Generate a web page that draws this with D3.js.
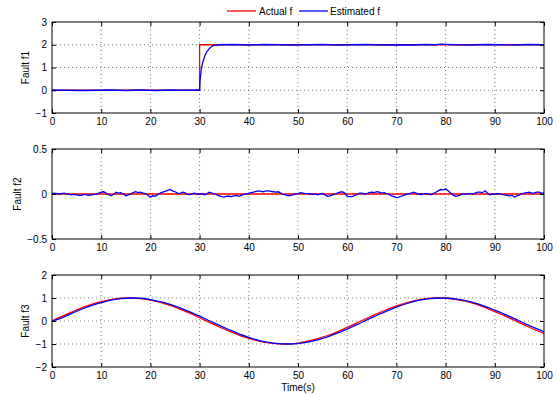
<!DOCTYPE html>
<html>
<head>
<meta charset="utf-8">
<script src="https://cdn.jsdelivr.net/npm/d3@7"></script>
<style>
  body { margin: 0; background: #fff; }
  svg { display: block; font-family: "Liberation Sans", Arial, sans-serif; }
  .tick text { font-size: 10px; fill: #000; }
</style>
</head>
<body>
<div id="chart"></div>
<script>
// ---- data ----
const xTicks = [0, 10, 20, 30, 40, 50, 60, 70, 80, 90, 100];

// fault f1
const f1ActualTime = [0, 30, 30, 100];
const f1ActualValue = [0, 0, 2, 2];
const f1EstTime = [0, 3, 6, 9, 12, 15, 18, 21, 24, 27, 29.8, 30, 30.1, 30.3, 30.6, 31, 31.5, 32, 32.5, 33, 34,
  37, 40, 43, 46, 49, 52, 55, 58, 61, 64, 67, 70, 73, 76, 78, 79, 80, 82, 85, 88, 91, 94, 97, 100];
const f1EstValue = [0, 0.0, -0.01, 0.0, 0.01, -0.01, 0.01, -0.01, 0.01, 0.0, 0.01, 0.0, 0.45, 0.85, 1.2, 1.48, 1.7, 1.84, 1.93, 1.97, 2.0,
  2.01, 1.99, 2.01, 2.0, 1.99, 2.0, 2.01, 1.99, 2.0, 2.01, 1.99, 2.0, 1.99, 2.01, 2.0, 2.03, 2.02, 2.0, 1.99, 2.01, 2.0, 1.99, 2.01, 2.0];

// fault f2 (sampled every 0.5 s)
const f2Actual = [0, 0];
const f2Est = [
  0.005, 0.01, 0.005, 0.0, 0.005, 0.01, 0.0, -0.005, -0.01, -0.005,
  -0.01, -0.015, -0.015, -0.005, -0.01, -0.015, -0.01, -0.005, -0.005, 0.01,
  0.02, 0.025, 0.01, -0.005, -0.02, -0.005, 0.02, 0.01, 0.015, 0.0,
  -0.02, -0.01, 0.0, 0.015, 0.025, 0.015, 0.02, 0.01, 0.005, -0.015,
  -0.035, -0.02, -0.025, -0.005, 0.01, 0.02, 0.03, 0.04, 0.05, 0.035,
  0.025, 0.01, 0.005, 0.02, 0.015, 0.0, -0.01, 0.005, 0.01, 0.0,
  -0.005, 0.005, -0.01, 0.005, 0.02, 0.01, 0.005, -0.01, -0.02, -0.03,
  -0.035, -0.025, -0.025, -0.03, -0.02, -0.015, -0.025, -0.015, -0.005, 0.0,
  0.01, 0.015, 0.02, 0.03, 0.035, 0.03, 0.025, 0.035, 0.035, 0.03,
  0.025, 0.02, 0.025, 0.01, -0.005, -0.01, -0.02, -0.015, -0.01, 0.0,
  0.005, 0.015, 0.01, 0.005, 0.005, 0.0, -0.005, 0.0, -0.01, 0.0,
  0.005, -0.01, -0.025, -0.02, -0.01, 0.0, 0.01, 0.02, 0.025, 0.01,
  -0.025, -0.03, -0.03, -0.015, -0.005, 0.01, 0.01, 0.0, 0.005, 0.015,
  0.02, 0.015, 0.025, 0.02, 0.01, 0.015, 0.005, -0.005, -0.02, -0.03,
  -0.04, -0.035, -0.025, -0.015, -0.005, 0.005, 0.01, 0.02, 0.01, 0.0,
  -0.005, 0.005, 0.005, 0.0, -0.01, 0.005, 0.02, 0.035, 0.05, 0.045,
  0.055, 0.035, 0.01, -0.01, -0.025, -0.02, -0.01, 0.0, -0.005, 0.005,
  0.005, 0.0, 0.01, 0.02, 0.02, 0.015, 0.035, 0.01, -0.01, 0.0,
  -0.005, 0.005, 0.005, -0.005, -0.01, -0.015, -0.02, -0.015, -0.035, -0.02,
  -0.01, 0.005, 0.01, 0.015, 0.02, 0.01, 0.01, 0.02, 0.02, 0.01,
  0.01
];

// fault f3 (sampled every 2 s)
const f3Actual = [0, 0.2, 0.39, 0.57, 0.72, 0.84, 0.93, 0.99, 1.0, 0.97, 0.91, 0.81, 0.68, 0.52, 0.34, 0.14,
  -0.06, -0.26, -0.44, -0.61, -0.76, -0.87, -0.95, -0.99, -1.0, -0.96, -0.88, -0.77, -0.63, -0.47, -0.28,
  -0.08, 0.12, 0.31, 0.49, 0.66, 0.79, 0.9, 0.97, 1.0, 0.99, 0.94, 0.86, 0.74, 0.59, 0.41, 0.22, 0.03,
  -0.17, -0.37, -0.54];
const f3Est = [0, 0.14, 0.33, 0.51, 0.67, 0.8, 0.91, 0.97, 1.0, 0.99, 0.93, 0.84, 0.72, 0.57, 0.4, 0.21,
  0.01, -0.19, -0.38, -0.56, -0.71, -0.84, -0.93, -0.98, -1.0, -0.98, -0.92, -0.82, -0.69, -0.53, -0.35,
  -0.16, 0.05, 0.24, 0.43, 0.6, 0.75, 0.87, 0.95, 0.99, 1.0, 0.96, 0.89, 0.78, 0.64, 0.47, 0.29, 0.1,
  -0.1, -0.29, -0.47];

const W = 557, H = 394;
const left = 52, right = 544;

const svg = d3.select("#chart").append("svg")
  .attr("width", W).attr("height", H);

const x = d3.scaleLinear().domain([0, 100]).range([left, right]);

function panel(top, bottom, yDomain, yTicks, label, labelX, series) {
  const y = d3.scaleLinear().domain(yDomain).range([bottom, top]);
  const g = svg.append("g");

  // dotted grid
  g.selectAll(".vg").data(xTicks.slice(1, -1)).enter().append("line")
    .attr("x1", d => x(d)).attr("x2", d => x(d))
    .attr("y1", top).attr("y2", bottom)
    .attr("stroke", "#555").attr("stroke-width", 0.8).attr("stroke-dasharray", "1,3");
  g.selectAll(".hg").data(yTicks.slice(1, -1)).enter().append("line")
    .attr("x1", left).attr("x2", right)
    .attr("y1", d => y(d)).attr("y2", d => y(d))
    .attr("stroke", "#555").attr("stroke-width", 0.8).attr("stroke-dasharray", "1,3");

  // lines
  series.forEach(s => {
    g.append("path")
      .datum(s.points)
      .attr("fill", "none")
      .attr("stroke", s.color)
      .attr("stroke-width", 1.3)
      .attr("d", d3.line().x(d => x(d[0])).y(d => y(d[1])).curve(s.curve || d3.curveLinear));
  });

  // axes, MATLAB style ticks pointing in
  const fmt = d3.format("");
  g.append("g").attr("transform", `translate(0,${bottom})`)
    .call(d3.axisBottom(x).tickValues(xTicks).tickSizeInner(-4).tickSizeOuter(0).tickPadding(5));
  g.append("g").attr("transform", `translate(0,${top})`)
    .call(d3.axisTop(x).tickValues(xTicks).tickSizeInner(-4).tickSizeOuter(0).tickFormat(""));
  g.append("g").attr("transform", `translate(${left},0)`)
    .call(d3.axisLeft(y).tickValues(yTicks).tickSizeInner(-4).tickSizeOuter(0).tickPadding(5).tickFormat(fmt));
  g.append("g").attr("transform", `translate(${right},0)`)
    .call(d3.axisRight(y).tickValues(yTicks).tickSizeInner(-4).tickSizeOuter(0).tickFormat(""));
  g.selectAll(".domain").remove();
  g.selectAll(".tick line").attr("stroke", "#000");

  g.append("rect")
    .attr("x", left).attr("y", top)
    .attr("width", right - left).attr("height", bottom - top)
    .attr("fill", "none").attr("stroke", "#000").attr("stroke-width", 1);

  g.append("text")
    .attr("transform", `translate(${labelX},${(top + bottom) / 2}) rotate(-90)`)
    .attr("text-anchor", "middle")
    .attr("font-size", 10)
    .text(label);
  return y;
}

const zip = (ts, vs) => ts.map((t, i) => [t, vs[i]]);
const t05 = d3.range(f2Est.length).map(i => i * 0.5);
const t2 = d3.range(f3Actual.length).map(i => i * 2);

panel(22, 113, [-1, 3], [-1, 0, 1, 2, 3], "Fault f1", 29, [
  { color: "#ff0000", points: zip(f1ActualTime, f1ActualValue) },
  { color: "#0000ff", points: zip(f1EstTime, f1EstValue) }
]);

panel(149, 239, [-0.5, 0.5], [-0.5, 0, 0.5], "Fault f2", 21, [
  { color: "#ff0000", points: zip([0, 100], f2Actual) },
  { color: "#0000ff", points: zip(t05, f2Est) }
]);

panel(275, 367, [-2, 2], [-2, -1, 0, 1, 2], "Fault f3", 29, [
  { color: "#ff0000", points: zip(t2, f3Actual), curve: d3.curveMonotoneX },
  { color: "#0000ff", points: zip(t2, f3Est), curve: d3.curveMonotoneX }
]);

svg.append("text")
  .attr("x", x(50)).attr("y", 391)
  .attr("text-anchor", "middle").attr("font-size", 10)
  .text("Time(s)");

// legend
const legend = svg.append("g").attr("font-size", 10);
[["Actual f", "#ff0000", 227, 259], ["Estimated f", "#0000ff", 299, 330]].forEach(([name, color, lx, tx]) => {
  legend.append("line")
    .attr("x1", lx).attr("x2", lx + 29).attr("y1", 11).attr("y2", 11)
    .attr("stroke", color).attr("stroke-width", 1.3);
  legend.append("text")
    .attr("x", tx).attr("y", 15)
    .text(name);
});
</script>
</body>
</html>
